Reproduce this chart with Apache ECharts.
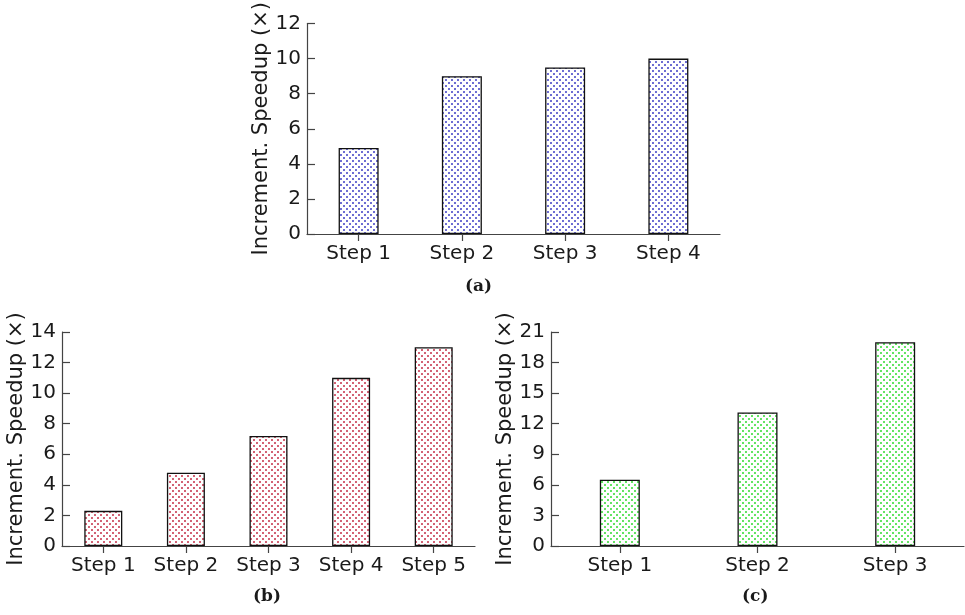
<!DOCTYPE html>
<html>
<head>
<meta charset="utf-8">
<script src="https://cdn.jsdelivr.net/npm/echarts@6/dist/echarts.min.js"></script>
<style>
  html, body { margin: 0; padding: 0; background: #ffffff; }
  #chart { width: 965px; height: 615px; }
</style>
</head>
<body>
<div id="chart"></div>
<script>
// ---- data ----
const categoriesA = ['Step 1', 'Step 2', 'Step 3', 'Step 4'];
const speedupA = [4.9, 9.0, 9.5, 10.0];
const yTicksA = [0, 2, 4, 6, 8, 10, 12];

const categoriesB = ['Step 1', 'Step 2', 'Step 3', 'Step 4', 'Step 5'];
const speedupB = [2.3, 4.8, 7.2, 11.0, 13.0];
const yTicksB = [0, 2, 4, 6, 8, 10, 12, 14];

const categoriesC = ['Step 1', 'Step 2', 'Step 3'];
const speedupC = [6.5, 13.1, 20.0];
const yTicksC = [0, 3, 6, 9, 12, 15, 18, 21];

const yAxisTitle = 'Increment. Speedup (×)';
const captions = ['(a)', '(b)', '(c)'];

// ---- helpers ----
function dotPattern(color) {
  const c = document.createElement('canvas');
  c.width = 6; c.height = 6;
  const ctx = c.getContext('2d');
  ctx.fillStyle = '#ffffff';
  ctx.fillRect(0, 0, 6, 6);
  ctx.fillStyle = color;
  ctx.beginPath(); ctx.arc(2, 2, 0.95, 0, Math.PI * 2); ctx.fill();
  ctx.beginPath(); ctx.arc(5, 5, 0.95, 0, Math.PI * 2); ctx.fill();
  return { image: c, repeat: 'repeat' };
}

const FONT = 'DejaVu Sans';
const TXT = '#1a1a1a';
const AXIS = '#444444';

function makeX(idx, cats) {
  return {
    type: 'category', gridIndex: idx, data: cats,
    axisLine: { show: true, lineStyle: { color: AXIS, width: 1.2 } },
    axisTick: { show: true, inside: false, length: 7, alignWithLabel: true, lineStyle: { color: AXIS, width: 1.2 } },
    axisLabel: { fontFamily: FONT, fontSize: 20, color: TXT, margin: 10, interval: 0, hideOverlap: false },
    splitLine: { show: false }
  };
}
function makeY(idx, ticks, gap) {
  return {
    type: 'value', gridIndex: idx,
    min: ticks[0], max: ticks[ticks.length - 1], interval: ticks[1] - ticks[0],
    name: yAxisTitle, nameLocation: 'middle', nameGap: gap,
    nameTextStyle: { fontFamily: FONT, fontSize: 21, color: TXT },
    axisLine: { show: true, lineStyle: { color: AXIS, width: 1.2 } },
    axisTick: { show: true, inside: true, length: 8, lineStyle: { color: AXIS, width: 1.2 } },
    axisLabel: { fontFamily: FONT, fontSize: 20, color: TXT, margin: 6 },
    splitLine: { show: false }
  };
}
function makeBar(idx, data, color, w) {
  return {
    type: 'bar', xAxisIndex: idx, yAxisIndex: idx, data: data, barWidth: w,
    itemStyle: { color: dotPattern(color), borderColor: '#111111', borderWidth: 1.3 },
    silent: true, animation: false
  };
}

const chart = echarts.init(document.getElementById('chart'), null, { renderer: 'canvas' });
chart.setOption({
  animation: false,
  backgroundColor: '#ffffff',
  grid: [
    { left: 307, top: 20, width: 413, height: 214, containLabel: false },
    { left: 62, top: 332, width: 413, height: 214, containLabel: false },
    { left: 551, top: 332, width: 413, height: 214, containLabel: false }
  ],
  xAxis: [makeX(0, categoriesA), makeX(1, categoriesB), makeX(2, categoriesC)],
  yAxis: [makeY(0, yTicksA, 31), makeY(1, yTicksB, 34), makeY(2, yTicksC, 35)],
  series: [
    makeBar(0, speedupA, '#3030c0', 40),
    makeBar(1, speedupB, '#c0203a', 38),
    makeBar(2, speedupC, '#22d822', 40)
  ],
  graphic: [
    { type: 'text', left: 480 - 15, top: 278, style: { text: captions[0], font: 'bold 17px "DejaVu Serif"', fill: TXT } },
    { type: 'text', left: 268 - 15, top: 588, style: { text: captions[1], font: 'bold 17px "DejaVu Serif"', fill: TXT } },
    { type: 'text', left: 757 - 15, top: 588, style: { text: captions[2], font: 'bold 17px "DejaVu Serif"', fill: TXT } }
  ]
});
</script>
</body>
</html>
